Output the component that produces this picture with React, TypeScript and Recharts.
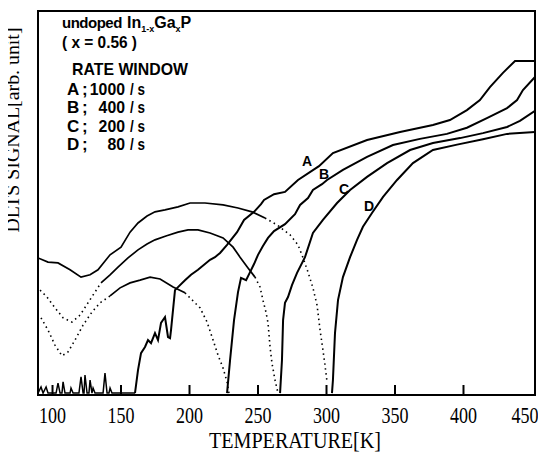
import { LineChart, Line, XAxis, YAxis, ReferenceArea } from "recharts";

// temperature [K] and DLTS signal [arb. unit, 0-100]

// A (1000/s): noisy zero line, then the rise from ~160 K
const aBaseT = [89.4, 91.6, 93.1, 95.3, 96.7, 102.6, 104.0, 105.5, 106.9, 107.7, 109.1, 112.8, 113.5, 115.0, 119.3, 120.8, 122.3, 123.0, 123.7, 125.2, 126.6, 127.4, 128.8, 129.6, 131.0, 136.9, 138.3, 139.8, 141.2, 142.0, 143.4, 160.2];
const aBaseS = [0.5, 2.1, 0.5, 2.1, 0.5, 0.5, 3.1, 0.5, 0.5, 3.4, 0.5, 0.5, 1.8, 0.5, 0.5, 4.7, 0.5, 0.5, 5.2, 0.5, 0.5, 3.9, 0.5, 1.8, 0.5, 0.5, 5.7, 0.5, 0.5, 1.8, 0.5, 0.5];
const aRiseT = [160.2, 162.4, 164.6, 167.5, 169.7, 171.9, 174.8, 177.0, 179.2, 182.1, 184.3, 185.8, 186.5, 189.4, 191.6, 196.7, 201.1, 206.2, 215.0, 218.6, 222.3, 227.4, 234.7, 239.8, 247.1, 252.2, 254.4, 261.7, 269.7, 279.2, 294.5, 304.7, 329.6, 353.7, 377.7, 390.1, 402.5, 412.0, 419.3, 428.8, 437.6, 452.2];
const aRiseS = [0.5, 6.5, 10.9, 12.5, 14.3, 13.5, 16.1, 14.3, 18.8, 20.3, 15.1, 14.8, 16.9, 27.3, 28.1, 29.9, 31.3, 32.6, 35.2, 35.9, 37.0, 39.1, 42.4, 45.6, 47.7, 49.7, 50.8, 52.3, 52.9, 56.0, 59.6, 63.0, 66.4, 68.5, 70.3, 71.6, 74.2, 76.8, 80.2, 83.9, 87.0, 87.0];

// B (400/s)
const bLowT = [91.6, 96.7, 101.8, 106.9, 111.3, 116.4, 122.3, 128.8, 134.7, 142.0];
const bLowS = [20.1, 16.9, 13.0, 10.2, 11.2, 14.3, 18.2, 21.6, 24.0, 25.8];
const bPeakT = [142.0, 149.3, 156.6, 163.9, 171.2, 178.5, 188.0, 196.7];
const bPeakS = [25.8, 27.9, 29.2, 29.9, 30.7, 30.2, 28.1, 26.6];
const bFallT = [196.7, 204.0, 207.7, 212.8, 217.2, 220.8, 224.5, 227.4, 228.8];
const bFallS = [26.6, 24.0, 22.7, 19.0, 14.3, 10.4, 7.0, 3.4, 0.5];
const bRiseT = [227.4, 229.6, 232.5, 235.4, 237.6, 241.3, 244.2, 247.1, 250.0, 253.6, 257.3, 261.7, 269.7, 277.0, 280.7, 286.5, 290.1, 296.7, 300.4, 312.0, 329.6, 348.5, 368.2, 387.9, 402.5, 417.1, 431.8, 439.1, 443.4, 452.2];
const bRiseS = [0.5, 9.1, 19.5, 26.8, 30.5, 29.9, 32.0, 34.1, 36.5, 38.8, 40.9, 42.7, 44.5, 47.1, 49.5, 51.3, 53.4, 54.9, 56.0, 58.6, 62.0, 65.1, 66.7, 68.0, 69.6, 72.1, 74.7, 76.8, 79.4, 82.8];

// C (200/s)
const cLowT = [90.9, 96.0, 101.8, 107.7, 114.2, 120.1, 125.9, 131.0, 135.4];
const cLowS = [27.3, 25.5, 22.7, 20.1, 19.0, 20.8, 24.0, 26.8, 29.2];
const cPeakT = [135.4, 142.0, 147.8, 155.1, 162.4, 169.0, 174.8, 182.8, 191.6, 198.9, 206.2, 215.0, 224.5, 231.8, 236.9, 242.7, 247.8];
const cPeakS = [29.2, 31.3, 33.3, 35.7, 37.8, 39.3, 40.4, 41.4, 42.4, 43.0, 43.0, 42.2, 40.9, 38.5, 35.9, 33.1, 30.7];
const cFallT = [247.8, 251.5, 253.6, 255.8, 257.3, 258.8, 260.2, 262.4, 264.6];
const cFallS = [30.7, 28.1, 24.7, 21.6, 18.8, 12.5, 8.3, 3.9, 0.5];
const cRiseT = [266.1, 267.5, 268.3, 269.7, 271.9, 274.8, 278.5, 284.3, 290.1, 297.4, 307.7, 317.2, 329.6, 344.2, 361.0, 377.7, 397.5, 414.2, 431.8, 441.2, 452.2];
const cRiseS = [0.5, 9.1, 19.5, 24.0, 25.5, 28.6, 31.8, 35.9, 42.2, 45.6, 50.0, 53.4, 56.8, 60.4, 63.8, 65.6, 66.9, 68.2, 69.8, 71.4, 74.0];

// D (80/s)
const dPeakT = [89.4, 96.7, 104.0, 112.8, 120.8, 127.4, 133.2, 142.0, 150.0, 156.6, 162.4, 169.0, 174.8, 182.1, 191.6, 200.4, 211.3, 224.5, 235.4, 245.6, 255.1];
const dPeakS = [35.7, 34.6, 34.4, 32.6, 30.7, 31.3, 32.6, 36.5, 38.5, 42.4, 44.8, 46.6, 47.7, 48.2, 49.0, 50.0, 50.0, 49.5, 48.7, 47.7, 46.1];
const dFallT = [255.1, 263.9, 273.4, 279.2, 282.9, 286.5, 290.1, 293.1, 295.3, 297.4, 298.9, 300.4];
const dFallS = [46.1, 44.3, 41.7, 39.1, 35.7, 32.0, 27.9, 23.4, 16.9, 11.7, 7.8, 3.4];
const dRiseT = [304.0, 304.7, 306.2, 308.4, 312.0, 317.2, 322.3, 326.6, 333.2, 341.3, 351.5, 363.1, 377.7, 395.3, 414.2, 431.8, 452.2];
const dRiseS = [0.5, 3.9, 16.1, 24.7, 30.7, 35.9, 40.4, 43.8, 47.4, 51.6, 56.0, 60.4, 63.8, 65.2, 66.6, 68.0, 68.5];

const xTicks = [100, 150, 200, 250, 300, 350, 400, 450];
const rateLetters = ["A", "B", "C", "D"];
const rateValues = ["1000", "400", "200", "80"];

const pts = (t: number[], s: number[]) => t.map((x, i) => ({ t: x, s: s[i] }));

const solid = { strokeWidth: 2 };
const noisy = { strokeWidth: 1.7 };
const dotted = { strokeWidth: 1.6, strokeDasharray: "1.5 3.5" };

const segments = [
  { id: "aBase", data: pts(aBaseT, aBaseS), st: { strokeWidth: 1.5 } },
  { id: "aRise", data: pts(aRiseT, aRiseS), st: solid },
  { id: "bLow", data: pts(bLowT, bLowS), st: dotted },
  { id: "bPeak", data: pts(bPeakT, bPeakS), st: noisy },
  { id: "bFall", data: pts(bFallT, bFallS), st: dotted },
  { id: "bRise", data: pts(bRiseT, bRiseS), st: solid },
  { id: "cLow", data: pts(cLowT, cLowS), st: dotted },
  { id: "cPeak", data: pts(cPeakT, cPeakS), st: noisy },
  { id: "cFall", data: pts(cFallT, cFallS), st: dotted },
  { id: "cRise", data: pts(cRiseT, cRiseS), st: solid },
  { id: "dPeak", data: pts(dPeakT, dPeakS), st: noisy },
  { id: "dFall", data: pts(dFallT, dFallS), st: dotted },
  { id: "dRise", data: pts(dRiseT, dRiseS), st: solid },
];

const W = 538;
const H = 447;
const serif = "'Liberation Serif', 'Times New Roman', serif";
const sans = "'Liberation Sans', Arial, sans-serif";

function TempTick(props: any) {
  const { x, y, payload } = props;
  const last = payload.value >= 450;
  return (
    <g>
      {!last && (
        <line x1={x} x2={x} y1={y} y2={y - 10} stroke="#000" strokeWidth={2} />
      )}
      <text
        x={last ? x - 7 : x}
        y={y + 28}
        textAnchor="middle"
        fontFamily={serif}
        fontSize={24}
        textLength={27}
        lengthAdjust="spacingAndGlyphs"
        fill="#000"
      >
        {payload.value}
      </text>
    </g>
  );
}

export default function App() {
  return (
    <div style={{ position: "relative", width: W, height: H }}>
      <LineChart
        width={W}
        height={H}
        margin={{ top: 3, right: 11, left: 30, bottom: 30 }}
      >
        <XAxis
          type="number"
          dataKey="t"
          domain={[89.4, 452.2]}
          allowDataOverflow
          ticks={xTicks}
          height={30}
          axisLine={false}
          tickLine={false}
          tickSize={0}
          tickMargin={0}
          tick={(p: any) => <TempTick {...p} />}
        />
        <YAxis type="number" domain={[0, 100]} allowDataOverflow hide />
        <ReferenceArea
          x1={89.4}
          x2={452.2}
          y1={0}
          y2={100}
          fill="none"
          stroke="#000"
          strokeWidth={2}
        />
        {segments.map((g) => (
          <Line
            key={g.id}
            data={g.data}
            dataKey="s"
            type="linear"
            stroke="#000"
            dot={false}
            isAnimationActive={false}
            {...g.st}
          />
        ))}
      </LineChart>
      <svg
        width={W}
        height={H}
        style={{ position: "absolute", left: 0, top: 0, overflow: "visible", pointerEvents: "none" }}
      >
        <text
          x={287}
          y={440}
          textAnchor="middle"
          fontFamily={serif}
          fontSize={24}
          textLength={172}
          lengthAdjust="spacingAndGlyphs"
        >
          TEMPERATURE[K]
        </text>
        <text
          transform="translate(11,122) rotate(-90)"
          textAnchor="middle"
          fontFamily={serif}
          fontSize={18}
          textLength={205}
          lengthAdjust="spacingAndGlyphs"
        >
          DLTS SIGNAL[arb. unit]
        </text>

        <g fontFamily={sans} fontWeight="bold" fill="#000">
          <text x={54} y={20} fontSize={15} letterSpacing={-0.5}>undoped</text>
          <text x={119} y={20} fontSize={16}>
            <tspan>In</tspan>
            <tspan dy={4} fontSize={9}>1-x</tspan>
            <tspan dy={-4}>Ga</tspan>
            <tspan dy={4} fontSize={9}>x</tspan>
            <tspan dy={-4}>P</tspan>
          </text>
          <text x={54} y={40} fontSize={16} textLength={75} lengthAdjust="spacingAndGlyphs">( x = 0.56 )</text>
          <text x={64} y={67} fontSize={17} textLength={116} lengthAdjust="spacingAndGlyphs">RATE  WINDOW</text>
          {rateLetters.map((l, i) => {
            const y = [87, 105, 124, 142][i];
            return (
              <g key={l}>
                <text x={59} y={y} fontSize={17}>{l}</text>
                <text x={74} y={y} fontSize={17}>;</text>
                <text x={117} y={y} fontSize={17} textAnchor="end" textLength={rateValues[i].length * 8.8} lengthAdjust="spacingAndGlyphs">
                  {rateValues[i]}
                </text>
                <text x={122} y={y} fontSize={17} textLength={15} lengthAdjust="spacingAndGlyphs">/ s</text>
              </g>
            );
          })}
          <text x={299} y={158} fontSize={14} textAnchor="middle">A</text>
          <text x={316} y={171} fontSize={14} textAnchor="middle">B</text>
          <text x={336} y={186} fontSize={14} textAnchor="middle">C</text>
          <text x={361} y={203} fontSize={14} textAnchor="middle">D</text>
        </g>
      </svg>
    </div>
  );
}
